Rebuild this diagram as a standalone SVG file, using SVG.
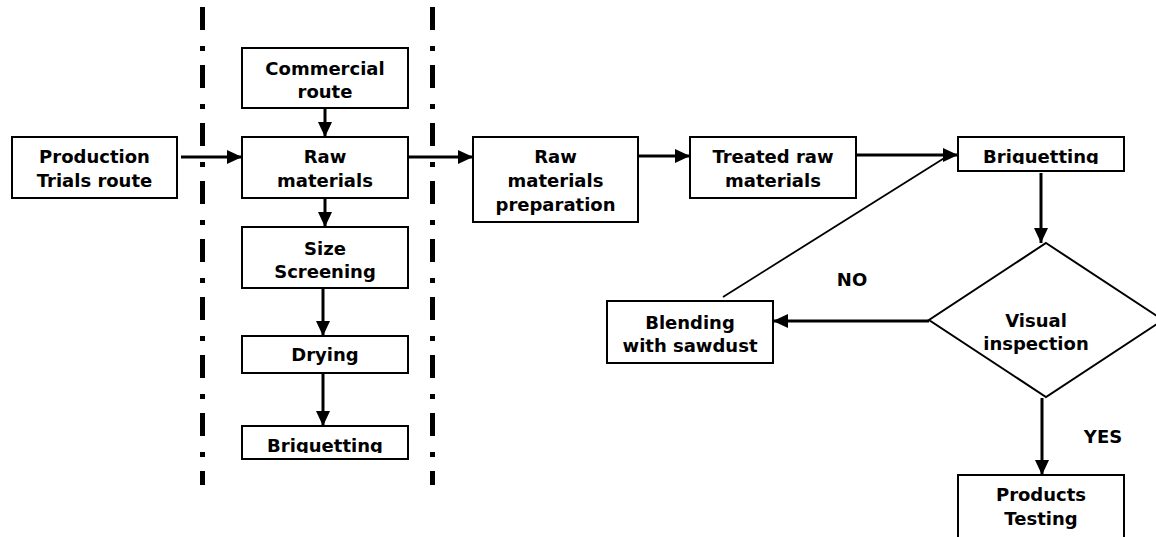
<svg xmlns="http://www.w3.org/2000/svg" width="1156" height="537" viewBox="0 0 1156 537">
<style>
.box{fill:#fff;stroke:#000;stroke-width:2}
.t{font-family:"DejaVu Sans",Verdana,sans-serif;font-weight:bold;font-size:18px;fill:#000;text-anchor:middle}
.a{stroke:#000;stroke-width:3;fill:none;marker-end:url(#ah)}
.sep{stroke:#000;stroke-width:5;stroke-dasharray:23 16 5 14;fill:none}
</style>
<defs>
<marker id="ah" markerUnits="userSpaceOnUse" markerWidth="16" markerHeight="16" viewBox="0 0 16 16" refX="15" refY="8" orient="auto">
<path d="M0,1 L15,8 L0,15 Z" fill="#000"/>
</marker>
<clipPath id="clipL"><rect x="242" y="426" width="166" height="27"/></clipPath>
<clipPath id="clipR"><rect x="958" y="137" width="166" height="27"/></clipPath>
</defs>
<g id="separators">
<line class="sep" x1="202.5" y1="7" x2="202.5" y2="485"/>
<line class="sep" x1="432.5" y1="7" x2="432.5" y2="485"/>
</g>
<g id="connectors">
<line class="a" x1="181" y1="157" x2="242" y2="157"/>
<line class="a" x1="325" y1="108" x2="325" y2="137"/>
<line class="a" x1="325" y1="198" x2="325" y2="227"/>
<line class="a" x1="323" y1="288" x2="323" y2="336"/>
<line class="a" x1="323" y1="373" x2="323" y2="426"/>
<line class="a" x1="403" y1="157" x2="473" y2="157"/>
<line class="a" x1="633" y1="156" x2="690" y2="156"/>
<line class="a" x1="853" y1="155" x2="958" y2="155"/>
<line x1="723" y1="297" x2="946" y2="157" stroke="#000" stroke-width="1.8"/>
<line class="a" x1="1041" y1="173" x2="1041" y2="243"/>
<line class="a" x1="929" y1="321" x2="773" y2="321"/>
<line class="a" x1="1042" y1="398" x2="1042" y2="475"/>
</g>
<g id="production">
<rect class="box" x="12" y="137" width="165" height="61"/>
<text class="t" x="94.5" y="163">Production</text>
<text class="t" x="94.5" y="187">Trials route</text>
</g>
<g id="commercial">
<rect class="box" x="242" y="48" width="166" height="60"/>
<text class="t" x="325" y="75">Commercial</text>
<text class="t" x="325" y="98">route</text>
</g>
<g id="raw">
<rect class="box" x="242" y="137" width="166" height="61"/>
<text class="t" x="325" y="163">Raw</text>
<text class="t" x="325" y="187">materials</text>
</g>
<g id="size">
<rect class="box" x="242" y="227" width="166" height="61"/>
<text class="t" x="325" y="255">Size</text>
<text class="t" x="325" y="278">Screening</text>
</g>
<g id="drying">
<rect class="box" x="242" y="336" width="166" height="37"/>
<text class="t" x="325" y="361">Drying</text>
</g>
<g id="briq-left">
<rect class="box" x="242" y="426" width="166" height="33"/>
<text class="t" x="325" y="452" clip-path="url(#clipL)">Briquetting</text>
</g>
<g id="prep">
<rect class="box" x="473" y="137" width="165" height="85"/>
<text class="t" x="555.5" y="163">Raw</text>
<text class="t" x="555.5" y="187">materials</text>
<text class="t" x="555.5" y="211">preparation</text>
</g>
<g id="treated">
<rect class="box" x="690" y="137" width="166" height="61"/>
<text class="t" x="773" y="163">Treated raw</text>
<text class="t" x="773" y="187">materials</text>
</g>
<g id="briq-right">
<rect class="box" x="958" y="137" width="166" height="34"/>
<text class="t" x="1041" y="163" clip-path="url(#clipR)">Briquetting</text>
</g>
<g id="inspection">
<polygon points="1046,243 1163,320 1046,397 929,320" fill="#fff" stroke="#000" stroke-width="2"/>
<text class="t" x="1036" y="327">Visual</text>
<text class="t" x="1036" y="350">inspection</text>
</g>
<g id="blending">
<rect class="box" x="607" y="301" width="166" height="62"/>
<text class="t" x="690" y="329">Blending</text>
<text class="t" x="690" y="352">with sawdust</text>
</g>
<g id="testing">
<rect class="box" x="958" y="475" width="166" height="65"/>
<text class="t" x="1041" y="501">Products</text>
<text class="t" x="1041" y="525">Testing</text>
</g>
<g id="labels">
<text class="t" x="852" y="286">NO</text>
<text class="t" x="1103" y="443">YES</text>
</g>
</svg>
